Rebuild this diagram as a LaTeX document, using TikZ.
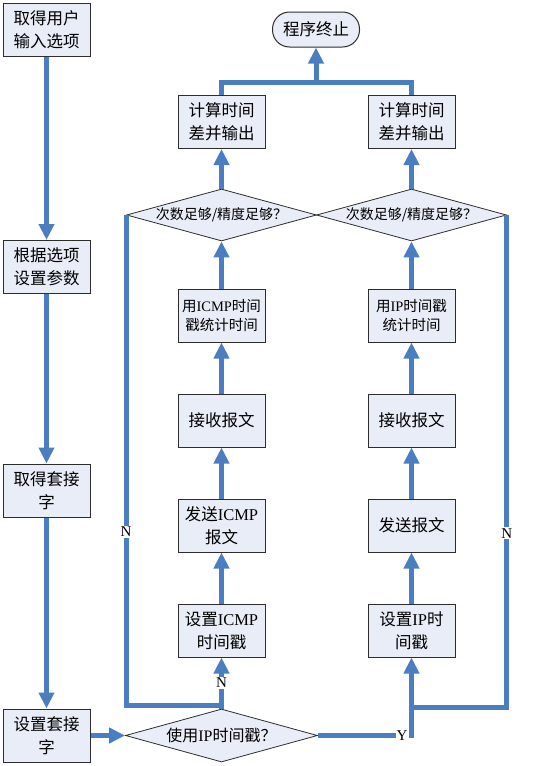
\documentclass[tikz,border=0pt]{standalone}
\usepackage{fontspec}
\setmainfont{Noto Sans CJK SC}
\newfontfamily\lat{Liberation Serif}
\usetikzlibrary{arrows.meta,shapes.geometric}
\definecolor{lineblue}{RGB}{74,126,193}
\definecolor{boxfill}{RGB}{233,237,247}
\definecolor{boxline}{RGB}{45,45,45}
\begin{document}
\begin{tikzpicture}[x=1pt,y=-1pt,
  box/.style={draw=boxline, line width=1pt, fill=boxfill, minimum width=87pt, minimum height=53pt, inner sep=0pt, align=center, font=\fontsize{16.5}{23}\selectfont},
  smallbox/.style={box, font=\fontsize{14.5}{19}\selectfont},
  term/.style={draw=boxline, line width=1pt, fill=boxfill, rounded corners=17pt, minimum width=87pt, minimum height=35pt, inner sep=0pt, font=\fontsize{16.5}{20}\selectfont},
  decision/.style={diamond, draw=boxline, line width=0.8pt, fill=boxfill, inner sep=0pt, minimum width=190pt, minimum height=52pt, font=\fontsize{14}{16}\selectfont},
  flow/.style={draw=lineblue, line width=5pt},
  arr/.style={flow, -{Triangle[width=15pt,length=16pt]}},
  lbl/.style={fill=white, inner sep=1pt, text=black, font=\lat\fontsize{15}{15}\selectfont}
]
\useasboundingbox (0,0) rectangle (554,766);

% left column
\node[box] (b1) at (46.5,30) {取得用户\\输入选项};
\node[box] (b2) at (46.5,267) {根据选项\\设置参数};
\node[box] (b3) at (46.5,490.5) {取得套接\\字};
\node[box] (b4) at (46.5,735.5) {设置套接\\字};

% terminal
\node[term] (t) at (316,29.5) {程序终止};

% middle column
\node[box] (c1) at (221.5,122) {计算时间\\差并输出};
\node[decision] (d1) at (221.5,215) {\makebox[0pt]{次数足够/精度足够？}};
\node[smallbox] (u1) at (221.5,315.5) {用{\lat ICMP}时间\\戳统计时间};
\node[box] (r1) at (221.5,420.5) {接收报文};
\node[box] (m1) at (221.5,525.5) {发送{\lat ICMP}\\报文};
\node[box] (s1) at (221.5,630.5) {设置{\lat ICMP}\\时间戳};

% right column
\node[box] (c2) at (411.5,122) {计算时间\\差并输出};
\node[decision] (d2) at (411.5,215) {\makebox[0pt]{次数足够/精度足够？}};
\node[smallbox] (u2) at (411.5,315.5) {用{\lat IP}时间戳\\统计时间};
\node[box] (r2) at (411.5,420.5) {接收报文};
\node[box] (m2) at (411.5,525.5) {发送报文};
\node[box] (s2) at (411.5,630.5) {设置{\lat IP}时\\间戳};

% bottom decision
\node[decision, minimum width=192pt, minimum height=53pt, font=\fontsize{16}{18}\selectfont] (d0) at (221.5,735.5) {\makebox[0pt]{使用{\lat IP}时间戳？}};

% coordinates
\coordinate (top) at (316,82);
\coordinate (jl) at (221.5,705);
\coordinate (jr) at (411.5,707);
\coordinate (jy) at (411.5,735.5);

% left column arrows
\draw[arr] (b1.south) -- (b2.north);
\draw[arr] (b2.south) -- (b3.north);
\draw[arr] (b3.south) -- (b4.north);
\draw[arr] (b4.east) -- (d0.west);

% middle column arrows
\draw[arr] (d0.north) -- node[lbl,pos=0.5]{N} (s1.south);
\draw[arr] (s1.north) -- (m1.south);
\draw[arr] (m1.north) -- (r1.south);
\draw[arr] (r1.north) -- (u1.south);
\draw[arr] (u1.north) -- (d1.south);
\draw[arr] (d1.north) -- (c1.south);

% right column arrows
\draw[arr] (d0.east) -- node[lbl,pos=0.9]{Y} (jy) -- (s2.south);
\draw[arr] (s2.north) -- (m2.south);
\draw[arr] (m2.north) -- (r2.south);
\draw[arr] (r2.north) -- (u2.south);
\draw[arr] (u2.north) -- (d2.south);
\draw[arr] (d2.north) -- (c2.south);

% loops
\draw[flow] (d1.west) -- node[lbl,pos=0.647]{N} (d1.west |- jl) -- (jl);
\draw[flow] (d2.east) -- node[lbl,pos=0.647]{N} (d2.east |- jr) -- (jr);

% top join
\draw[flow] (c1.north) -- (c1.north |- top) -- (c2.north |- top) -- (c2.north);
\draw[arr] (top) -- (t.south);
\end{tikzpicture}
\end{document}
